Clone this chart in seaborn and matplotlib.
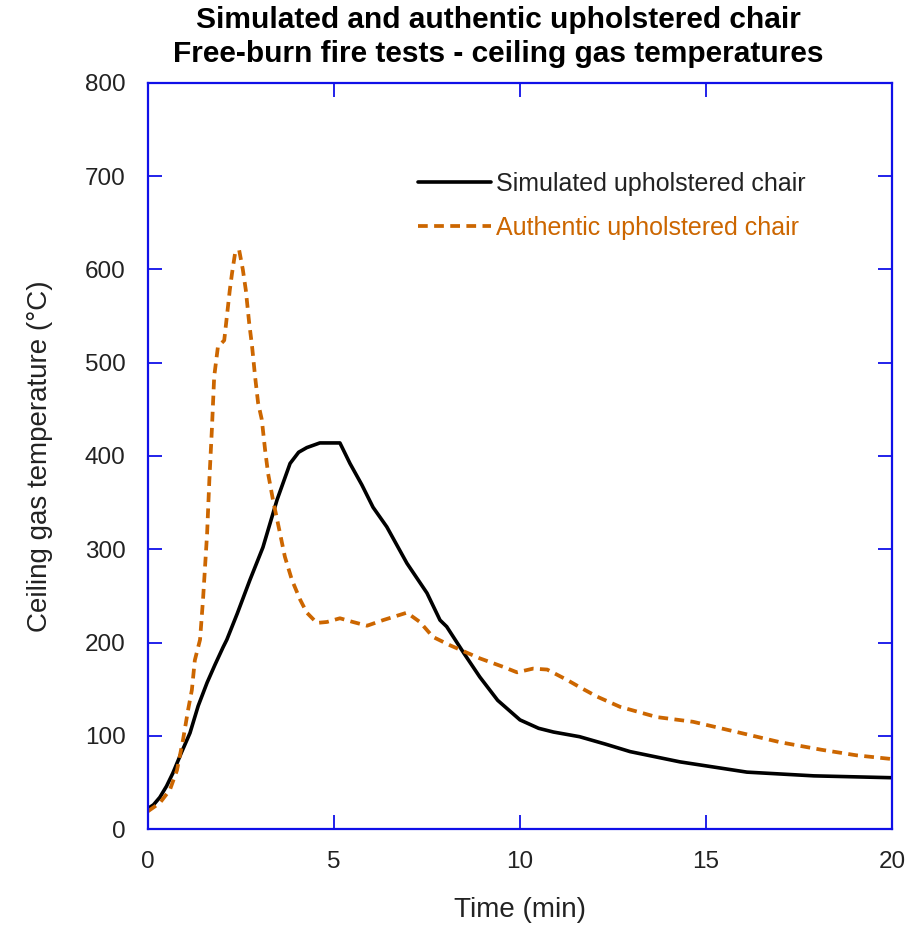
import pandas as pd
import matplotlib
matplotlib.use("Agg")
import matplotlib.pyplot as plt
import seaborn as sns

# Simulated upholstered chair (black solid)
sim_time = [0.0, 0.15, 0.32, 0.5, 0.67, 0.9, 1.13, 1.35, 1.59, 1.8, 2.02, 2.12, 2.4, 2.74,
            3.09, 3.47, 3.82, 4.05, 4.27, 4.62, 5.0, 5.16, 5.43, 5.75, 6.05, 6.42, 6.96,
            7.5, 7.85, 8.03, 8.5, 8.92, 9.4, 10.0, 10.5, 10.9, 11.6, 12.3, 12.96, 14.3,
            16.1, 17.9, 20.0]
sim_temp = [22, 26, 34, 46, 60, 82, 103, 132, 157, 176, 195, 203, 231, 267,
            302, 353, 392, 404, 409, 414, 414, 414, 392, 369, 345, 324, 285,
            253, 224, 217, 188, 163, 138, 117, 108, 104, 99, 91, 83, 72,
            61, 57, 55]

# Authentic upholstered chair (orange dashed)
auth_time = [0.0, 0.32, 0.59, 0.78, 0.94, 1.08, 1.18, 1.26, 1.4, 1.48, 1.59, 1.65, 1.72,
             1.78, 1.88, 2.05, 2.15, 2.2, 2.26, 2.34, 2.45, 2.55, 2.63, 2.72, 2.8,
             2.88, 2.96, 3.06, 3.15, 3.23, 3.36, 3.55, 3.68, 3.87, 4.09, 4.27, 4.54,
             4.81, 5.16, 5.51, 5.89, 6.32, 6.96, 7.31, 7.66, 8.12, 8.92, 9.54, 9.92,
             10.35, 10.73, 11.26, 11.61, 12.07, 12.69, 13.68, 14.65, 15.83, 17.0,
             18.1, 19.05, 20.0]
auth_temp = [19, 28, 42, 63, 95, 128, 149, 181, 203, 246, 317, 374, 430,
             485, 517, 524, 560, 578, 596, 617, 621, 600, 578, 543, 517,
             485, 457, 439, 406, 381, 353, 317, 292, 267, 246, 232, 221,
             222, 226, 222, 218, 224, 232, 222, 206, 197, 183, 174, 168,
             172, 171, 160, 152, 142, 131, 120, 115, 104, 93,
             85, 79, 75]

x_ticks = [0, 5, 10, 15, 20]
y_ticks = [0, 100, 200, 300, 400, 500, 600, 700, 800]

sns.set_style("white")
plt.rcParams["font.family"] = ["Liberation Sans", "DejaVu Sans"]

orange = "#CC6600"
blue = "#1010E8"
txt = "#222222"

fig = plt.figure(figsize=(9.15, 9.27), dpi=100)
ax = fig.add_axes([0.1617, 0.1057, 0.8132, 0.8048])

sim_df = pd.DataFrame({"t": sim_time, "T": sim_temp})
auth_df = pd.DataFrame({"t": auth_time, "T": auth_temp})

sns.lineplot(data=sim_df, x="t", y="T", ax=ax, color="black", lw=2.6,
             label="Simulated upholstered chair")
sns.lineplot(data=auth_df, x="t", y="T", ax=ax, color=orange, lw=2.7,
             label="Authentic upholstered chair")
ax.lines[1].set_dashes((2.6, 1.7))

ax.set_xlim(0, 20)
ax.set_ylim(0, 800)
ax.set_xticks(x_ticks)
ax.set_yticks(y_ticks)
ax.tick_params(direction="in", length=10, width=1.3, color=blue, labelcolor=txt,
               bottom=True, left=True, top=True, right=True, labelsize=17.5, pad=16)
for sp in ax.spines.values():
    sp.set_color(blue)
    sp.set_linewidth(1.6)

ax.set_xlabel("Time (min)", fontsize=20, labelpad=17, color=txt)
ax.set_ylabel("Ceiling gas temperature (°C)", fontsize=20, labelpad=23, color=txt)

leg = ax.legend(loc="upper left", bbox_to_anchor=(0.349, 0.894), frameon=False,
                fontsize=18, handlelength=2.95, handletextpad=0.2,
                labelspacing=0.78, borderaxespad=0, labelcolor="linecolor")
leg.get_lines()[1].set_dashes((2.6, 1.7))
leg.get_texts()[0].set_color(txt)

fig.text(0.545, 0.978, "Simulated and authentic upholstered chair",
         ha="center", va="center", fontsize=21.5, fontweight="bold", color="black")
fig.text(0.545, 0.9415, "Free-burn fire tests - ceiling gas temperatures",
         ha="center", va="center", fontsize=21.5, fontweight="bold", color="black")

fig.savefig("out.png", dpi=100)
